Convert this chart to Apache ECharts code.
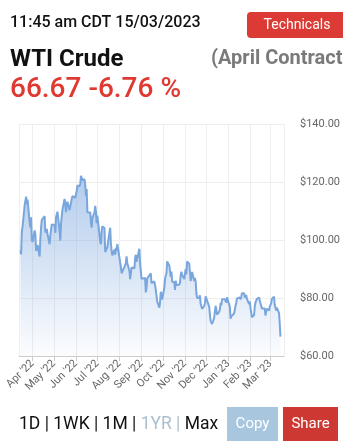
<!DOCTYPE html>
<html>
<head>
<meta charset="utf-8">
<script src="https://cdn.jsdelivr.net/npm/echarts@6/dist/echarts.min.js"></script>
<style>
html,body{margin:0;padding:0;background:#fff;}
#chart{width:343px;height:445px;}
</style>
</head>
<body>
<div id="chart"></div>
<script>
// Trading dates (2022-03-15 .. 2023-03-15)
const dates = [
'2022-03-15','2022-03-16','2022-03-17','2022-03-18','2022-03-21','2022-03-22','2022-03-23','2022-03-24','2022-03-25','2022-03-28','2022-03-29','2022-03-30','2022-03-31',
'2022-04-01','2022-04-04','2022-04-05','2022-04-06','2022-04-07','2022-04-08','2022-04-11','2022-04-12','2022-04-13','2022-04-14','2022-04-18','2022-04-19','2022-04-20','2022-04-21','2022-04-22','2022-04-25','2022-04-26','2022-04-27','2022-04-28','2022-04-29',
'2022-05-02','2022-05-03','2022-05-04','2022-05-05','2022-05-06','2022-05-09','2022-05-10','2022-05-11','2022-05-12','2022-05-13','2022-05-16','2022-05-17','2022-05-18','2022-05-19','2022-05-20','2022-05-23','2022-05-24','2022-05-25','2022-05-26','2022-05-27','2022-05-31',
'2022-06-01','2022-06-02','2022-06-03','2022-06-06','2022-06-07','2022-06-08','2022-06-09','2022-06-10','2022-06-13','2022-06-14','2022-06-15','2022-06-16','2022-06-17','2022-06-21','2022-06-22','2022-06-23','2022-06-24','2022-06-27','2022-06-28','2022-06-29','2022-06-30',
'2022-07-01','2022-07-05','2022-07-06','2022-07-07','2022-07-08','2022-07-11','2022-07-12','2022-07-13','2022-07-14','2022-07-15','2022-07-18','2022-07-19','2022-07-20','2022-07-21','2022-07-22','2022-07-25','2022-07-26','2022-07-27','2022-07-28','2022-07-29',
'2022-08-01','2022-08-02','2022-08-03','2022-08-04','2022-08-05','2022-08-08','2022-08-09','2022-08-10','2022-08-11','2022-08-12','2022-08-15','2022-08-16','2022-08-17','2022-08-18','2022-08-19','2022-08-22','2022-08-23','2022-08-24','2022-08-25','2022-08-26','2022-08-29','2022-08-30','2022-08-31',
'2022-09-01','2022-09-02','2022-09-06','2022-09-07','2022-09-08','2022-09-09','2022-09-12','2022-09-13','2022-09-14','2022-09-15','2022-09-16','2022-09-19','2022-09-20','2022-09-21','2022-09-22','2022-09-23','2022-09-26','2022-09-27','2022-09-28','2022-09-29','2022-09-30',
'2022-10-03','2022-10-04','2022-10-05','2022-10-06','2022-10-07','2022-10-10','2022-10-11','2022-10-12','2022-10-13','2022-10-14','2022-10-17','2022-10-18','2022-10-19','2022-10-20','2022-10-21','2022-10-24','2022-10-25','2022-10-26','2022-10-27','2022-10-28','2022-10-31',
'2022-11-01','2022-11-02','2022-11-03','2022-11-04','2022-11-07','2022-11-08','2022-11-09','2022-11-10','2022-11-11','2022-11-14','2022-11-15','2022-11-16','2022-11-17','2022-11-18','2022-11-21','2022-11-22','2022-11-23','2022-11-25','2022-11-28','2022-11-29','2022-11-30',
'2022-12-01','2022-12-02','2022-12-05','2022-12-06','2022-12-07','2022-12-08','2022-12-09','2022-12-12','2022-12-13','2022-12-14','2022-12-15','2022-12-16','2022-12-19','2022-12-20','2022-12-21','2022-12-22','2022-12-23','2022-12-27','2022-12-28','2022-12-29','2022-12-30',
'2023-01-03','2023-01-04','2023-01-05','2023-01-06','2023-01-09','2023-01-10','2023-01-11','2023-01-12','2023-01-13','2023-01-17','2023-01-18','2023-01-19','2023-01-20','2023-01-23','2023-01-24','2023-01-25','2023-01-26','2023-01-27','2023-01-30','2023-01-31',
'2023-02-01','2023-02-02','2023-02-03','2023-02-06','2023-02-07','2023-02-08','2023-02-09','2023-02-10','2023-02-13','2023-02-14','2023-02-15','2023-02-16','2023-02-17','2023-02-21','2023-02-22','2023-02-23','2023-02-24','2023-02-27','2023-02-28',
'2023-03-01','2023-03-02','2023-03-03','2023-03-06','2023-03-07','2023-03-08','2023-03-09','2023-03-10','2023-03-13','2023-03-14','2023-03-15'
];
// WTI price, USD
const prices = [
96.44,95.04,102.98,104.70,112.12,111.76,114.93,112.34,113.90,105.96,104.24,107.82,100.28,
99.27,103.28,101.96,96.23,96.03,98.26,94.29,100.60,104.25,106.95,108.21,102.56,102.75,103.79,102.07,98.54,101.70,101.02,105.36,104.69,
105.17,102.41,107.81,108.26,109.77,103.09,99.76,105.71,106.13,110.49,114.20,112.40,109.59,112.21,113.23,110.29,109.77,110.33,114.09,115.07,114.67,
115.26,116.87,118.87,118.50,119.41,122.11,121.51,120.67,120.93,118.93,115.31,117.59,109.56,109.52,106.19,104.27,107.62,109.57,111.76,109.78,105.76,
108.43,99.50,98.53,102.73,104.79,104.09,95.84,96.30,95.78,97.59,102.60,104.22,98.88,96.35,94.70,96.70,94.98,97.26,96.42,98.62,
93.89,94.42,90.66,88.54,89.01,90.76,90.50,91.93,94.34,92.09,89.41,86.53,87.11,90.50,90.77,90.23,93.74,94.89,92.52,93.06,97.01,91.64,89.55,
86.61,86.87,86.88,81.94,83.54,86.79,87.78,87.31,88.48,85.10,85.11,85.73,84.45,82.94,83.49,78.74,76.71,78.50,82.15,81.23,79.49,
83.63,86.52,87.76,88.45,92.64,91.13,89.35,87.27,89.11,85.61,85.46,82.82,85.98,84.51,85.05,84.58,85.32,87.91,89.08,87.90,86.53,
88.37,90.00,88.17,92.61,91.79,88.91,85.83,86.47,88.96,85.87,86.92,85.59,81.64,80.08,80.04,80.95,77.94,76.28,77.24,78.20,80.55,
81.22,79.98,76.93,74.25,72.01,71.46,71.02,73.17,75.39,77.28,76.11,74.29,75.19,76.09,78.29,77.49,79.56,79.53,78.96,78.40,80.26,
76.93,72.84,73.67,73.77,74.63,75.12,77.41,78.39,79.86,80.18,79.48,80.33,81.64,81.62,80.13,80.15,81.01,79.68,77.90,78.87,
76.41,75.88,73.39,74.11,77.14,78.47,78.06,79.72,80.14,79.06,78.59,78.49,76.34,76.36,73.95,75.39,76.32,75.68,77.05,
77.69,78.16,79.68,80.46,77.58,76.66,75.72,76.68,74.80,71.33,66.67
];
// X tick labels (month starts)
const xTickDates = ['2022-04-01','2022-05-01','2022-06-01','2022-07-01','2022-08-01','2022-09-01','2022-10-01','2022-11-01','2022-12-01','2023-01-01','2023-02-01','2023-03-01'];
const xTickLabels = ["Apr '22","May '22","Jun '22","Jul '22","Aug '22","Sep '22","Oct '22","Nov '22","Dec '22","Jan '23","Feb '23","Mar '23"];
// Y ticks
const yMin = 60, yMax = 140, yStep = 20;

const seriesData = dates.map((d, i) => [d, prices[i]]);
function ymd(t) {
  const d = new Date(t);
  const p = n => (n < 10 ? '0' : '') + n;
  return d.getFullYear() + '-' + p(d.getMonth() + 1) + '-' + p(d.getDate());
}
const FONT = 'Roboto, "Noto Sans", sans-serif';

const chart = echarts.init(document.getElementById('chart'), null, {renderer: 'canvas'});
chart.setOption({
  backgroundColor: '#ffffff',
  animation: false,
  grid: {left: 19, right: 59, top: 124, bottom: 89},
  xAxis: {
    type: 'time',
    min: '2022-03-13',
    max: '2023-03-20',
    splitNumber: 12,
    axisLine: {show: true, lineStyle: {color: '#cccccc', width: 1}},
    axisTick: {show: true, length: 5, lineStyle: {color: '#cccccc'}},
    splitLine: {show: true, lineStyle: {color: '#eeeeee', width: 1}},
    axisLabel: {
      rotate: 45,
      fontSize: 11,
      color: '#666666',
      fontFamily: FONT,
      margin: 6,
      hideOverlap: false,
      formatter: function (v) {
        const k = xTickDates.indexOf(ymd(v));
        return k >= 0 ? xTickLabels[k] : '';
      }
    }
  },
  yAxis: {
    type: 'value',
    position: 'right',
    min: yMin,
    max: yMax,
    interval: yStep,
    axisLine: {show: false},
    axisTick: {show: false},
    splitLine: {show: true, lineStyle: {color: '#eeeeee', width: 1}},
    axisLabel: {
      fontSize: 11,
      color: '#666666',
      fontFamily: FONT,
      margin: 16,
      formatter: v => '$' + v.toFixed(2)
    }
  },
  series: [{
    type: 'line',
    data: seriesData,
    showSymbol: false,
    smooth: false,
    lineStyle: {color: '#7aa6de', width: 2},
    areaStyle: {
      color: {
        type: 'linear', x: 0, y: 0, x2: 0, y2: 1,
        colorStops: [
          {offset: 0, color: 'rgba(122,166,222,0.82)'},
          {offset: 1, color: 'rgba(122,166,222,0.04)'}
        ]
      }
    }
  }],
  graphic: [
    {type: 'text', left: 10, top: 15, style: {text: '11:45 am CDT 15/03/2023', font: '500 16px ' + FONT, fill: '#111111'}},
    {type: 'rect', shape: {x: 247, y: 12, width: 110, height: 26, r: 4}, style: {fill: '#db3a35'}},
    {type: 'text', x: 297, y: 25, style: {text: 'Technicals', font: '14px ' + FONT, fill: '#ffffff', align: 'center', verticalAlign: 'middle'}},
    {type: 'text', x: 10, y: 60, style: {text: 'WTI Crude', font: 'bold 24px ' + FONT, fill: '#111111', verticalAlign: 'middle'}},
    {type: 'text', x: 211, y: 59, style: {text: '(April Contract)', font: 'bold 20px ' + FONT, fill: '#7a7a7a', verticalAlign: 'middle'}},
    {type: 'text', x: 10, y: 90, style: {text: '66.67 -6.76 %', font: '500 28px ' + FONT, fill: '#de3a32', verticalAlign: 'middle'}},
    {type: 'text', x: 19, y: 425, style: {
      text: '{a|1D | 1WK | 1M | }{b|1YR | }{a|Max}',
      verticalAlign: 'middle',
      rich: {
        a: {font: '17.5px ' + FONT, fill: '#111111'},
        b: {font: '17.5px ' + FONT, fill: '#a9bfd1'}
      }
    }},
    {type: 'rect', shape: {x: 227, y: 407, width: 51, height: 34}, style: {fill: '#a8c7df'}},
    {type: 'text', x: 252.5, y: 424, style: {text: 'Copy', font: '15px ' + FONT, fill: '#ffffff', align: 'center', verticalAlign: 'middle'}},
    {type: 'rect', shape: {x: 283, y: 407, width: 55, height: 34}, style: {fill: '#cd3833'}},
    {type: 'text', x: 310.5, y: 424, style: {text: 'Share', font: '15px ' + FONT, fill: '#ffffff', align: 'center', verticalAlign: 'middle'}}
  ]
});
</script>
</body>
</html>
